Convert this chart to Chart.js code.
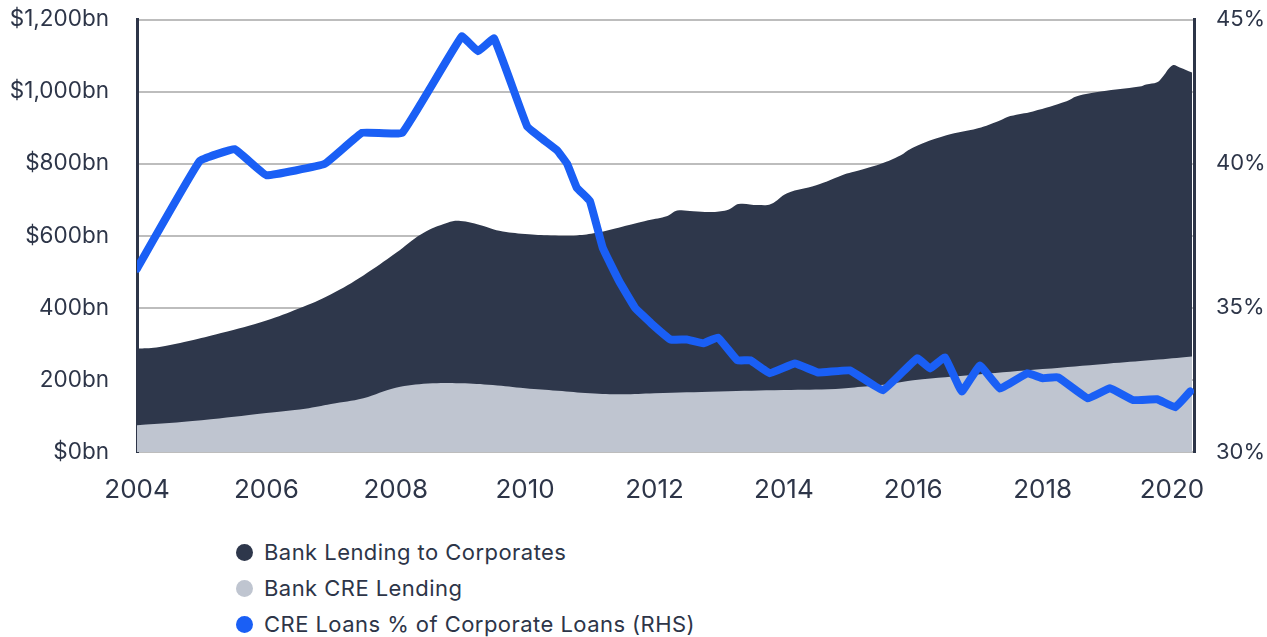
<!DOCTYPE html>
<html>
<head>
<meta charset="utf-8">
<script src="https://cdn.jsdelivr.net/npm/chart.js@4.4.0/dist/chart.umd.min.js"></script>
<style>
  html, body { margin: 0; padding: 0; background: #ffffff; overflow: hidden; }
  #wrap { position: relative; width: 1267px; height: 637px; font-family: Inter, "Noto Sans", sans-serif; overflow: hidden; }
  #box { position: absolute; left: 0; top: -22px; width: 1267px; height: 542px; }
  #legend { position: absolute; left: 236px; top: 534px; color: #2d3548; font-size: 22px; letter-spacing: 0.45px; }
  .item { display: flex; align-items: center; height: 36px; }
  .dot { width: 17px; height: 17px; border-radius: 50%; margin-right: 11px; }
</style>
</head>
<body>
<div id="wrap">
  <div id="box"><canvas id="c" width="1267" height="542"></canvas></div>
  <div id="legend"></div>
</div>
<script>
// ---- Data ----
const seriesNames = ["Bank Lending to Corporates", "Bank CRE Lending", "CRE Loans % of Corporate Loans (RHS)"];
const seriesColors = ["#2e374b", "#bfc5d0", "#1a5ff5"];

const corpYears  = [2004.0, 2004.3, 2004.8, 2005.3, 2006.0, 2006.5, 2007.0, 2007.5, 2008.0, 2008.4, 2008.8, 2009.0, 2009.3, 2009.6, 2010.0, 2010.4, 2010.8, 2011.1, 2011.5, 2011.9, 2012.2, 2012.35, 2012.6, 2012.9, 2013.15, 2013.3, 2013.6, 2013.8, 2014.05, 2014.5, 2014.9, 2015.05, 2015.5, 2015.8, 2016.0, 2016.5, 2017.0, 2017.34, 2017.5, 2017.85, 2018.37, 2018.53, 2018.9, 2019.5, 2019.6, 2019.77, 2019.86, 2020.01, 2020.12, 2020.31];
const corpValues = [287, 290, 308, 330, 365, 398, 438, 490, 552, 605, 636, 641, 630, 614, 605, 601, 601, 608, 625, 643, 655, 670, 668, 666, 673, 688, 685, 688, 718, 740, 768, 776, 800, 823, 845, 878, 898, 920, 932, 945, 973, 987, 1000, 1014, 1020, 1026, 1042, 1073, 1067, 1053];

const creYears  = [2004.0, 2005.0, 2006.0, 2006.6, 2007.0, 2007.5, 2008.0, 2008.5, 2009.0, 2009.5, 2010.0, 2010.5, 2011.0, 2011.5, 2012.0, 2013.0, 2014.0, 2014.8, 2015.2, 2015.6, 2016.0, 2017.0, 2018.0, 2019.0, 2019.7, 2020.31];
const creValues = [74, 88, 108, 120, 133, 149, 178, 190, 191, 186, 177, 170, 163, 160, 163, 168, 172, 175, 181, 188, 199, 215, 230, 245, 255, 265];

const pctYears  = [2004.0, 2004.97, 2005.51, 2006.0, 2006.9, 2007.48, 2008.1, 2009.02, 2009.27, 2009.52, 2010.03, 2010.3, 2010.5, 2010.65, 2010.8, 2011.0, 2011.2, 2011.45, 2011.7, 2011.95, 2012.25, 2012.5, 2012.75, 2012.98, 2013.28, 2013.48, 2013.78, 2014.17, 2014.53, 2015.02, 2015.53, 2016.06, 2016.26, 2016.49, 2016.75, 2017.03, 2017.34, 2017.76, 2018.0, 2018.24, 2018.7, 2019.04, 2019.4, 2019.77, 2020.05, 2020.28];
const pctValues = [36.36, 40.09, 40.5, 39.6, 39.99, 41.07, 41.07, 44.41, 43.9, 44.34, 41.3, 40.8, 40.45, 39.99, 39.16, 38.71, 37.08, 35.94, 35.0, 34.46, 33.9, 33.9, 33.77, 33.97, 33.18, 33.18, 32.73, 33.07, 32.76, 32.83, 32.14, 33.25, 32.9, 33.28, 32.1, 33.0, 32.2, 32.73, 32.56, 32.59, 31.86, 32.21, 31.8, 31.83, 31.55, 32.1];

const yearTicks = [2004, 2006, 2008, 2010, 2012, 2014, 2016, 2018, 2020];
const leftTicks = [0, 200, 400, 600, 800, 1000, 1200];
const leftLabels = ["$0bn", "200bn", "400bn", "$600bn", "$800bn", "$1,000bn", "$1,200bn"];
const rightTicks = [30, 35, 40, 45];
const rightLabels = ["30%", "35%", "40%", "45%"];

// ---- Build chart ----
const toPts = (xs, ys) => xs.map((x, i) => ({ x: x, y: ys[i] }));
const textColor = "#2d3548";
const fontFamily = "Inter, 'Noto Sans', sans-serif";

new Chart(document.getElementById("c"), {
  type: "line",
  data: {
    datasets: [
      {
        label: seriesNames[2], data: toPts(pctYears, pctValues), yAxisID: "y2",
        borderColor: seriesColors[2], borderWidth: 8, pointRadius: 0, tension: 0.08,
        borderJoinStyle: "round", borderCapStyle: "round", fill: false, order: 1
      },
      {
        label: seriesNames[1], data: toPts(creYears, creValues), yAxisID: "y",
        borderColor: seriesColors[1], backgroundColor: seriesColors[1], borderWidth: 0,
        pointRadius: 0, tension: 0.4, fill: "origin", order: 2
      },
      {
        label: seriesNames[0], data: toPts(corpYears, corpValues), yAxisID: "y",
        borderColor: seriesColors[0], backgroundColor: seriesColors[0], borderWidth: 0,
        pointRadius: 0, tension: 0.4, fill: "origin", order: 3
      }
    ]
  },
  options: {
    responsive: false,
    animation: false,
    layout: { padding: { top: 18, left: 0, right: 0, bottom: 0 } },
    plugins: { legend: { display: false }, tooltip: { enabled: false } },
    scales: {
      x: {
        type: "linear", min: 2004, max: 2020.34,
        afterBuildTicks: s => { s.ticks = yearTicks.map(v => ({ value: v })); },
        afterFit: s => { s.height = 68; },
        ticks: { padding: 23, color: textColor, font: { family: fontFamily, size: 26 }, maxRotation: 0, autoSkip: false,
                 callback: v => String(v) },
        grid: { display: false, drawTicks: false },
        border: { display: false }
      },
      y: {
        position: "left", min: 0, max: 1200,
        afterBuildTicks: s => { s.ticks = leftTicks.map(v => ({ value: v })); },
        afterFit: s => { s.width = 137; },
        ticks: { padding: 28, color: textColor, font: { family: fontFamily, size: 22.5 },
                 callback: v => leftLabels[leftTicks.indexOf(v)] },
        grid: { color: "#bdbdbd", lineWidth: 2, drawTicks: false },
        border: { display: true, color: "#2d3548", width: 3 }
      },
      y2: {
        position: "right", min: 30, max: 45,
        afterBuildTicks: s => { s.ticks = rightTicks.map(v => ({ value: v })); },
        afterFit: s => { s.width = 73; },
        ticks: { padding: 22, color: textColor, font: { family: fontFamily, size: 22 },
                 callback: v => rightLabels[rightTicks.indexOf(v)] },
        grid: { display: false, drawTicks: false },
        border: { display: true, color: "#2d3548", width: 3 }
      }
    }
  }
});

// ---- HTML legend ----
const lg = document.getElementById("legend");
seriesNames.forEach((n, i) => {
  const d = document.createElement("div"); d.className = "item";
  const dot = document.createElement("span"); dot.className = "dot"; dot.style.background = seriesColors[i];
  const t = document.createElement("span"); t.textContent = n;
  d.appendChild(dot); d.appendChild(t); lg.appendChild(d);
});
</script>
</body>
</html>
